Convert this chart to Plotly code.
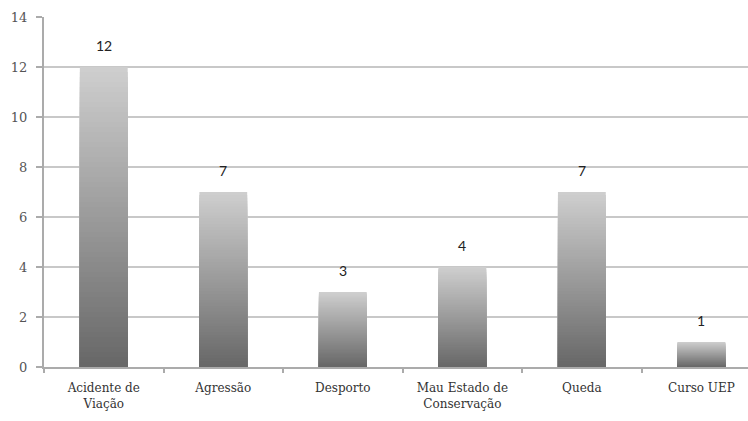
import plotly.graph_objects as go

# Data
categories = ["Acidente de<br>Viação", "Agressão", "Desporto",
              "Mau Estado de<br>Conservação", "Queda", "Curso UEP"]
values = [12, 7, 3, 4, 7, 1]
y_ticks = [0, 2, 4, 6, 8, 10, 12, 14]

# Vertical gradient: nested overlaid bars, each shorter one a bit darker,
# so the fill runs from light at the top to dark at the base.
N = 60
top_rgb = (206, 206, 206)
bot_rgb = (102, 102, 102)

SERIF = "DejaVu Serif"
SANS = "Lato"

fig = go.Figure()
for k in range(N):
    frac = (N - k) / N
    c = tuple(round(bot_rgb[i] + (top_rgb[i] - bot_rgb[i]) * frac) for i in range(3))
    fig.add_trace(go.Bar(
        x=categories,
        y=[v * frac for v in values],
        marker=dict(color=f"rgb{c}", line=dict(width=0)),
        width=0.4,
        hoverinfo="skip",
        showlegend=False,
    ))

# Value labels above the bars
for cat, v in zip(categories, values):
    fig.add_annotation(
        x=cat, y=v, text=str(v), showarrow=False,
        yshift=22, font=dict(family=SANS, size=14, color="#222"),
    )

fig.update_layout(
    barmode="overlay",
    width=748, height=421,
    margin=dict(l=44, r=0, t=17, b=54),
    paper_bgcolor="white",
    plot_bgcolor="white",
)
fig.update_xaxes(
    range=[-0.5, 5.39],
    showline=True, linecolor="#ababab", linewidth=2,
    ticks="outside", tickson="boundaries", ticklen=4, tickcolor="#ababab", tickwidth=2,
    tickfont=dict(family=SERIF, size=12, color="#333"),
    ticklabelstandoff=9,
    showgrid=False,
)
fig.update_yaxes(
    range=[0, 14],
    tickvals=y_ticks,
    showline=True, linecolor="#ababab", linewidth=2,
    ticks="outside", ticklen=6, tickcolor="#ababab", tickwidth=2,
    tickfont=dict(family=SERIF, size=13, color="#555"),
    ticklabelstandoff=6,
    showgrid=True, gridcolor="#c8c8c8", gridwidth=2,
    zeroline=False,
)

fig.write_html("out.html")
